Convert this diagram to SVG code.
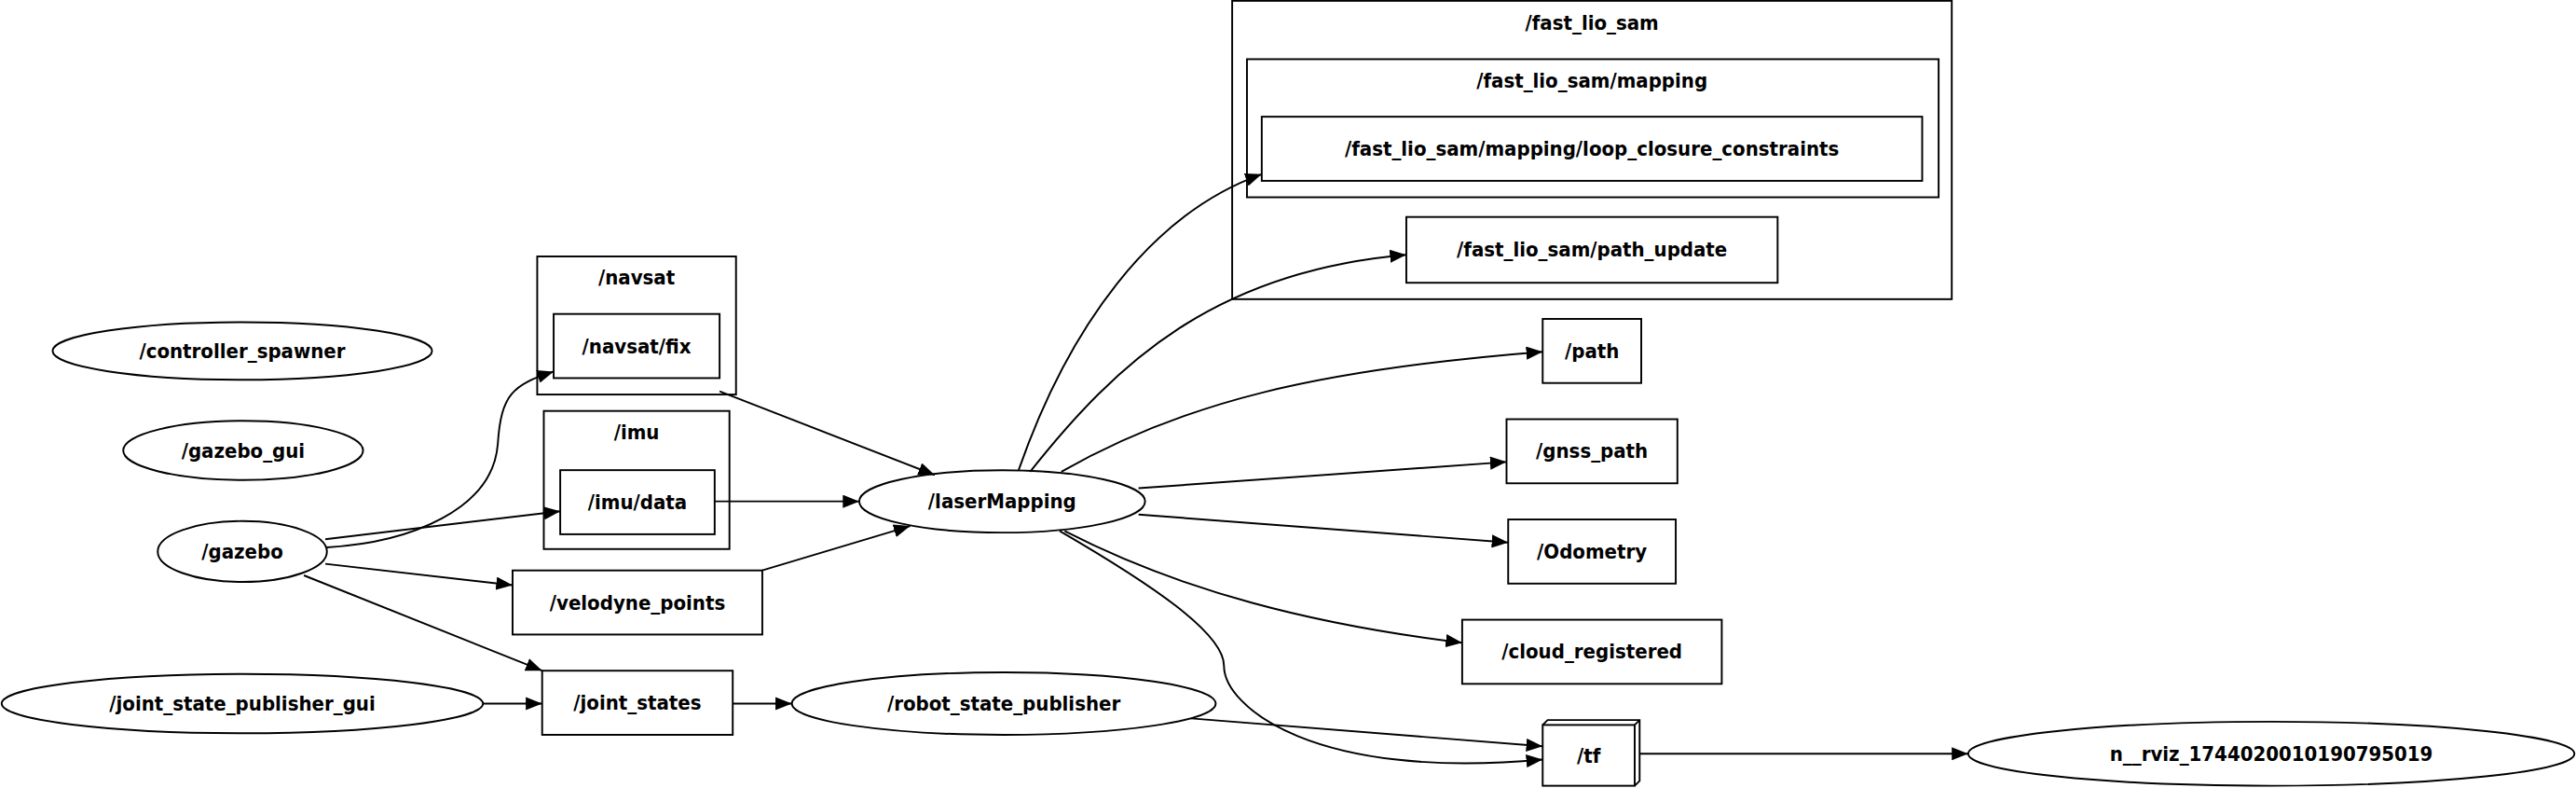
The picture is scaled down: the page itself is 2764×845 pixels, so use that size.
<svg xmlns="http://www.w3.org/2000/svg" width="2764" height="845" viewBox="0 0 2764 845">
<style>
.n{fill:none;stroke:#000;stroke-width:1.1}
.c{fill:none;stroke:#000;stroke-width:1.1}
.e{fill:none;stroke:#000;stroke-width:1.1}
text{font-family:"DejaVu Sans Condensed","DejaVu Sans",sans-serif;font-weight:bold;font-size:12.5px;text-anchor:middle;dominant-baseline:central}
</style>
<defs>
<marker id="a" markerUnits="userSpaceOnUse" markerWidth="11" markerHeight="8" refX="10" refY="4" orient="auto"><path d="M0,0 L10,4 L0,8 z" fill="#000"/></marker>
</defs>
<rect width="2764" height="845" fill="#fff"/>
<g transform="scale(1.7628)">
<g id="cl_fast"><rect class="c" x="750" y="0.5" width="438" height="181.5"/><text x="969" y="14">/fast_lio_sam</text></g>
<g id="cl_mapping"><rect class="c" x="759" y="36" width="421" height="84"/><text x="969" y="49">/fast_lio_sam/mapping</text></g>
<g id="cl_navsat"><rect class="c" x="327" y="156" width="121" height="84"/><text x="387.5" y="169">/navsat</text></g>
<g id="cl_imu"><rect class="c" x="331" y="250" width="113" height="84"/><text x="387.5" y="263">/imu</text></g>
<g id="controller_spawner"><ellipse class="n" cx="147.5" cy="213.5" rx="115.5" ry="17.5"/><text x="147.5" y="213.5">/controller_spawner</text></g>
<g id="gazebo_gui"><ellipse class="n" cx="148" cy="274" rx="73" ry="18"/><text x="148" y="274">/gazebo_gui</text></g>
<g id="gazebo"><ellipse class="n" cx="147.5" cy="335.5" rx="51.5" ry="18.5"/><text x="147.5" y="335.5">/gazebo</text></g>
<g id="jspg"><ellipse class="n" cx="147.5" cy="428" rx="146.5" ry="18"/><text x="147.5" y="428">/joint_state_publisher_gui</text></g>
<g id="navsat_fix"><rect class="n" x="337" y="191" width="101" height="39"/><text x="387.5" y="210.5">/navsat/fix</text></g>
<g id="imu_data"><rect class="n" x="341" y="286" width="94" height="39"/><text x="388" y="305.5">/imu/data</text></g>
<g id="velodyne"><rect class="n" x="312" y="347" width="152" height="39"/><text x="388" y="366.5">/velodyne_points</text></g>
<g id="joint_states"><rect class="n" x="330" y="408" width="116" height="39"/><text x="388" y="427.5">/joint_states</text></g>
<g id="laserMapping"><ellipse class="n" cx="610" cy="305" rx="87" ry="19"/><text x="610" y="305">/laserMapping</text></g>
<g id="rsp"><ellipse class="n" cx="611" cy="428" rx="129" ry="19"/><text x="611" y="428">/robot_state_publisher</text></g>
<g id="loop"><rect class="n" x="768" y="71" width="402" height="39"/><text x="969" y="90.5">/fast_lio_sam/mapping/loop_closure_constraints</text></g>
<g id="path_update"><rect class="n" x="856" y="132" width="226" height="40"/><text x="969" y="152">/fast_lio_sam/path_update</text></g>
<g id="path"><rect class="n" x="939" y="194" width="60" height="39"/><text x="969" y="213.5">/path</text></g>
<g id="gnss_path"><rect class="n" x="917" y="255" width="104" height="39"/><text x="969" y="274.5">/gnss_path</text></g>
<g id="odometry"><rect class="n" x="918" y="316" width="102" height="39"/><text x="969" y="335.5">/Odometry</text></g>
<g id="cloud_registered"><rect class="n" x="890" y="377" width="158" height="39"/><text x="969" y="396.5">/cloud_registered</text></g>
<g id="tf"><rect class="n" x="939" y="441" width="56" height="37"/><path class="n" d="M939,441 L942,438 L998,438 L998,475 L995,478 M995,441 L998,438"/><text x="967" y="459.5">/tf</text></g>
<g id="rviz"><ellipse class="n" cx="1382.5" cy="458.5" rx="184.5" ry="19.5"/><text x="1382.5" y="458.5">n__rviz_1744020010190795019</text></g>
<g id="edges">
<path class="e" marker-end="url(#a)" d="M199,333 C250,330 300,310 303,270 C305,240 312,234 337,226"/>
<path class="e" marker-end="url(#a)" d="M198,328 L341,311"/>
<path class="e" marker-end="url(#a)" d="M198,343 L312,356"/>
<path class="e" marker-end="url(#a)" d="M185,350 L330,408"/>
<path class="e" marker-end="url(#a)" d="M294,428 L330,428"/>
<path class="e" marker-end="url(#a)" d="M446,428 L482,428"/>
<path class="e" marker-end="url(#a)" d="M438,238 L569,289"/>
<path class="e" marker-end="url(#a)" d="M435,305 L523,305"/>
<path class="e" marker-end="url(#a)" d="M464,347 L554,320"/>
<path class="e" marker-end="url(#a)" d="M620,286 C650,200 700,130 768,106"/>
<path class="e" marker-end="url(#a)" d="M627,287 C680,220 740,165 856,155"/>
<path class="e" marker-end="url(#a)" d="M646,287 C720,245 800,225 939,214"/>
<path class="e" marker-end="url(#a)" d="M693,297 L917,281"/>
<path class="e" marker-end="url(#a)" d="M693,313 L918,330"/>
<path class="e" marker-end="url(#a)" d="M648,323 C720,360 800,380 890,391"/>
<path class="e" marker-end="url(#a)" d="M645,323 C700,355 745,385 745,405 C745,430 800,475 939,462"/>
<path class="e" marker-end="url(#a)" d="M725,437 L939,454"/>
<path class="e" marker-end="url(#a)" d="M998,458.5 L1198,458.5"/>
</g>
</g>
</svg>
